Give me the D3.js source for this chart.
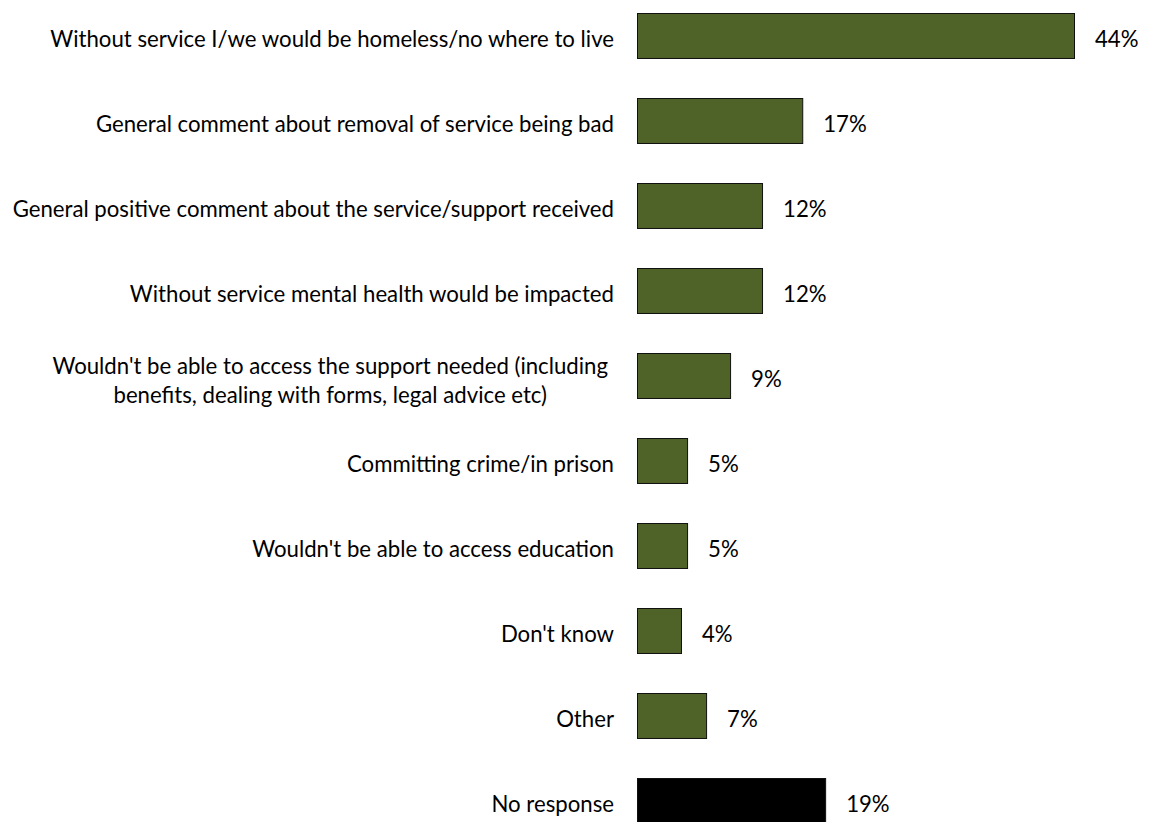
<!DOCTYPE html>
<html>
<head>
<meta charset="utf-8">
<script src="https://cdn.jsdelivr.net/npm/d3@7"></script>
<style>
  html, body { margin: 0; padding: 0; background: #fff; }
  svg { display: block; }
  text { font-family: Lato, "Open Sans", sans-serif; fill: #000; }
</style>
</head>
<body>
<svg id="chart" width="1152" height="822"></svg>
<script>
const categories = [
  "Without service I/we would be homeless/no where to live",
  "General comment about removal of service being bad",
  "General positive comment about the service/support received",
  "Without service mental health would be impacted",
  "Wouldn't be able to access the support needed (including benefits, dealing with forms, legal advice etc)",
  "Committing crime/in prison",
  "Wouldn't be able to access education",
  "Don't know",
  "Other",
  "No response"
];
const values = [44.0, 16.7, 12.66, 12.66, 9.45, 5.13, 5.13, 4.52, 7.04, 19.0];
const valueLabels = ["44%", "17%", "12%", "12%", "9%", "5%", "5%", "4%", "7%", "19%"];

const data = categories.map((c, i) => ({ category: c, value: values[i], label: valueLabels[i] }));

const svg = d3.select("#chart");
const fontSize = 22.2;

const x = d3.scaleLinear().domain([0, 44]).range([637, 1075]);
const y = d3.scaleBand().domain(categories).range([-6.5, 843.5]).paddingInner(0.459).paddingOuter(0.2295);

const fillFor = d => d.category === "No response" ? "#000000" : "#4f6228";

svg.append("g").selectAll("rect").data(data).join("rect")
  .attr("x", x(0) + 0.5)
  .attr("y", d => Math.round(y(d.category)) + 0.5)
  .attr("width", d => x(d.value) - x(0) - 1)
  .attr("height", y.bandwidth() - 1)
  .attr("fill", fillFor)
  .attr("stroke", "#111")
  .attr("stroke-width", 1);

// value labels
svg.append("g").selectAll("text").data(data).join("text")
  .attr("x", d => x(d.value) + 20)
  .attr("y", d => y(d.category) + y.bandwidth() / 2)
  .attr("dy", "0.48em")
  .style("font-size", fontSize + "px")
  .text(d => d.label);

// category labels with wrapping
const labelRight = 614;
const wrapWidth = 620;
const lg = svg.append("g");
data.forEach(d => {
  const cy = y(d.category) + y.bandwidth() / 2;
  const t = lg.append("text").style("font-size", fontSize + "px");
  const words = d.category.split(" ");
  const lines = [];
  let line = [];
  const probe = lg.append("text").style("font-size", fontSize + "px");
  words.forEach(w => {
    const test = line.concat(w).join(" ");
    probe.text(test);
    if (probe.node().getComputedTextLength() > wrapWidth && line.length) {
      lines.push(line.join(" "));
      line = [w];
    } else {
      line.push(w);
    }
  });
  lines.push(line.join(" "));
  probe.remove();
  if (lines.length === 1) {
    t.attr("x", labelRight).attr("y", cy).attr("dy", "0.48em")
      .attr("text-anchor", "end").text(lines[0]);
  } else {
    const widths = lines.map(l => { const p = lg.append("text").style("font-size", fontSize + "px").text(l); const w = p.node().getComputedTextLength(); p.remove(); return w; });
    const maxW = d3.max(widths);
    const cx = 608 - maxW / 2;
    t.attr("text-anchor", "middle");
    lines.forEach((l, i) => {
      t.append("tspan").attr("x", cx).attr("y", cy)
        .attr("dy", (-0.08 + i * 1.31) + "em").text(l);
    });
  }
});
</script>
</body>
</html>
